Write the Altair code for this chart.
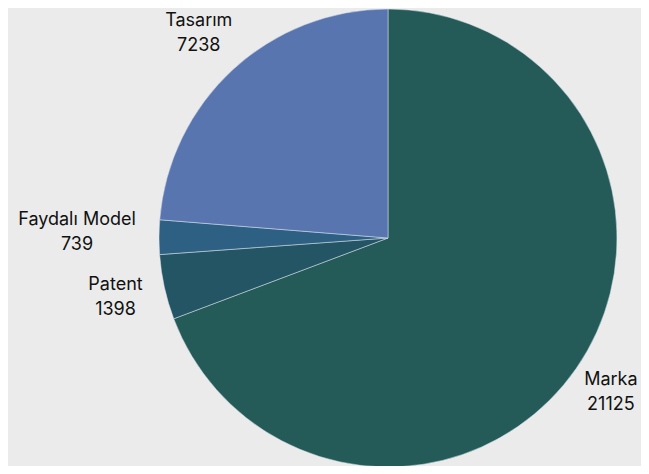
import altair as alt
import pandas as pd

categories = ["Marka", "Patent", "Faydalı Model", "Tasarım"]
values = [21125, 1398, 739, 7238]
colors = ["#245b58", "#245565", "#2d6082", "#5875b0"]

df = pd.DataFrame({"kategori": categories, "deger": values, "sira": [0, 1, 2, 3]})
df["etiket"] = df["kategori"] + "\n" + df["deger"].astype(str)

CX, CY, R = 380, 230, 229

base = alt.Chart(df).encode(
    theta=alt.Theta("deger:Q", stack=True),
    order=alt.Order("sira:Q"),
)

pie = base.mark_arc(outerRadius=R, stroke="#dfe6ee", strokeWidth=0.5).encode(
    x=alt.value(CX),
    y=alt.value(CY),
    color=alt.Color("kategori:N", scale=alt.Scale(domain=categories, range=colors), legend=None),
)

text_style = dict(align="center", baseline="middle", lineBreak="\n",
                  font="Inter", fontSize=18, lineHeight=25, color="#111111")

# label distance from centre for each slice (layout only)
label_radius = {"Marka": 271, "Patent": 279, "Faydalı Model": 311, "Tasarım": 279}
label_shift = {"Marka": 0, "Patent": 0, "Faydalı Model": -4, "Tasarım": 0}

layers = [pie]
for cat in categories:
    layers.append(
        base.mark_text(radius=label_radius[cat], dy=-12.5 + label_shift[cat], **text_style).encode(
            x=alt.value(CX), y=alt.value(CY), text="etiket:N",
            opacity=alt.condition(alt.datum.kategori == cat, alt.value(1), alt.value(0)),
        )
    )

chart = alt.layer(*layers).properties(
    width=633, height=458, background="#ebebeb", padding=0,
    autosize=alt.AutoSizeParams(type="none"),
).configure_view(stroke=None)

chart.save("out.html", embed_options={"renderer": "svg", "actions": False})
